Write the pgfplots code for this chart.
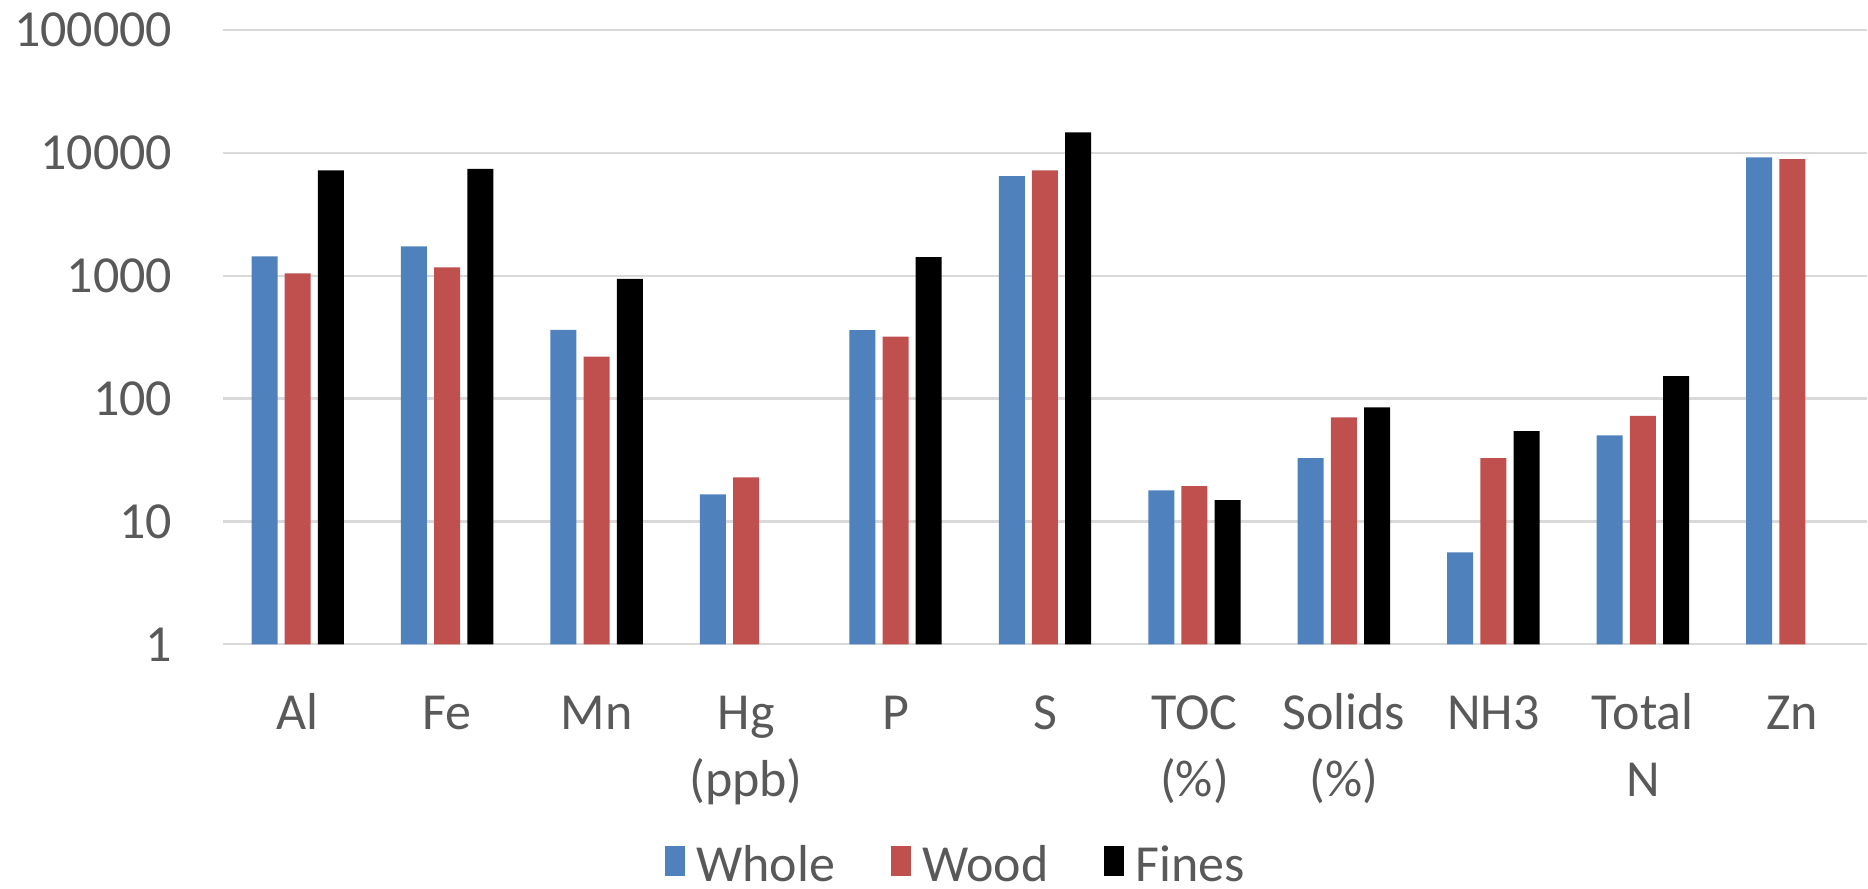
\documentclass[border=0pt]{standalone}
\usepackage{pgfplots}
\pgfplotsset{compat=1.18}
\usepackage{pgfplotstable}
\usepackage{fontspec}
\setmainfont{Carlito}

\definecolor{wholeblue}{HTML}{4F81BD}
\definecolor{woodred}{HTML}{C0504D}
\definecolor{textgray}{HTML}{595959}
\definecolor{gridgray}{HTML}{D9D9D9}

% x: 0 Al, 1 Fe, 2 Mn, 3 Hg (ppb), 4 P, 5 S, 6 TOC (%), 7 Solids (%), 8 NH3, 9 Total N, 10 Zn
\pgfplotstableread{
x y
0 1436
1 1730
2 363
3 16.6
4 360
5 6460
6 17.9
7 32.8
8 5.6
9 50.2
10 9170
}\whole
\pgfplotstableread{
x y
0 1044
1 1168
2 220
3 22.8
4 320
5 7190
6 19.4
7 70.3
8 32.8
9 72.4
10 8890
}\wood
\pgfplotstableread{
x y
0 7190
1 7410
2 944
4 1417
5 14650
6 14.9
7 84.8
8 54.4
9 152
}\fines

\begin{document}
\begin{tikzpicture}
\path[use as bounding box] (-55.75pt,-61.175pt) rectangle (411.25pt,161.075pt);
\begin{axis}[
  scale only axis,
  width=411pt, height=153.575pt,
  xmin=-0.5, xmax=10.5,
  ymode=log, log basis y=10,
  ymin=1, ymax=100000,
  ybar=1.8pt, bar width=6.5pt,
  axis line style={draw=none},
  major tick length=0pt,
  ymajorgrids,
  grid style={draw=gridgray, line width=0.55pt},
  ytick={1,10,100,1000,10000,100000},
  yticklabels={1,10,100,1000,10000,100000},
  xtick={0,...,10},
  xticklabels={\strut Al, \strut Fe, \strut Mn, {\strut Hg\\(ppb)}, \strut P, \strut S,
    {\strut TOC\\(\%)}, {\strut Solids\\(\%)}, \strut NH3, {\strut Total\\N}, \strut Zn},
  yticklabel style={font=\fontsize{13}{16.75}\selectfont, text=textgray,
    anchor=east, inner sep=0pt, xshift=-12.5pt},
  xticklabel style={font=\fontsize{13}{16.75}\selectfont, text=textgray,
    anchor=north, inner sep=0pt, yshift=-9.5pt, align=center},
  legend columns=3,
  legend style={draw=none, fill=none, inner sep=0pt,
    at={(0.4453,-0.362)}, anchor=center,
    font=\fontsize{13}{16}\selectfont, text=textgray,
    nodes={inner sep=0pt},
    /tikz/every odd column/.append style={column sep=2.75pt},
    /tikz/every even column/.append style={column sep=14pt}},
  legend image code/.code={\path[#1, draw=none] (0pt,-2.45pt) rectangle (5pt,5.05pt);},
]
\addplot[fill=wholeblue, draw=none] table[x=x, y=y] {\whole};
\addplot[fill=woodred, draw=none] table[x=x, y=y] {\wood};
\addplot[fill=black, draw=none] table[x=x, y=y] {\fines};
\legend{Whole, Wood, Fines}
\end{axis}
\end{tikzpicture}
\end{document}
